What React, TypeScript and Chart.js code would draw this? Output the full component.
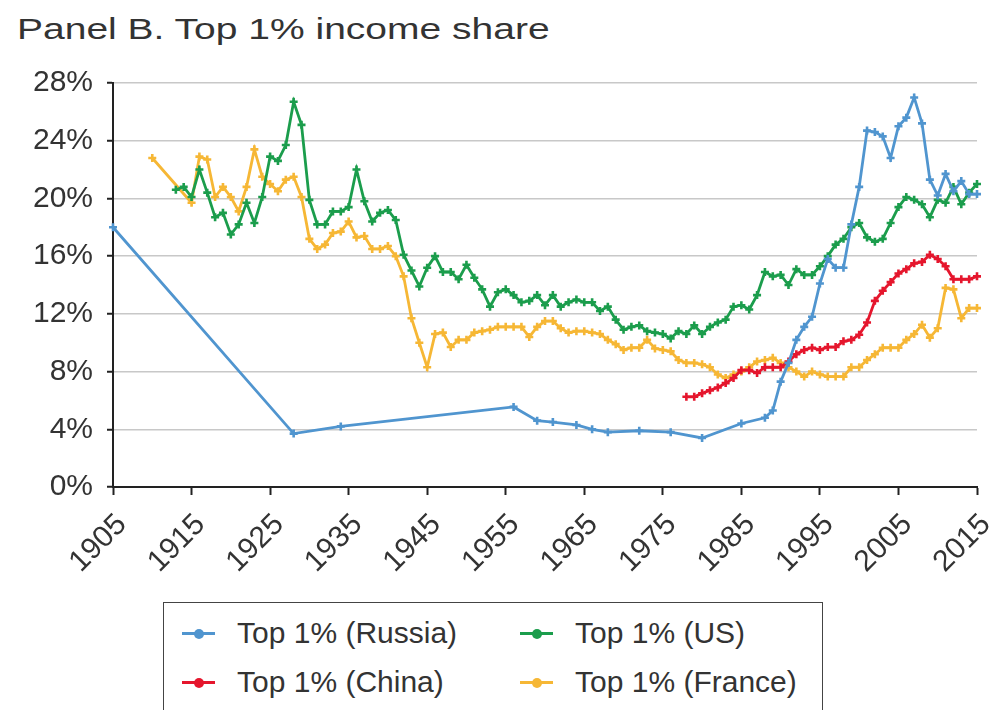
import React, { useEffect, useRef } from "react";
import { Chart, registerables } from "chart.js";

Chart.register(...registerables);

// ---- Data ----
const xTickYears = [1905, 1915, 1925, 1935, 1945, 1955, 1965, 1975, 1985, 1995, 2005, 2015];
const yTickValues = [0, 4, 8, 12, 16, 20, 24, 28];

const russiaYears = [
  1905, 1928, 1934, 1956, 1959, 1961, 1964, 1966, 1968, 1972, 1976, 1980, 1985, 1988, 1989,
  1990, 1991, 1992, 1993, 1994, 1995, 1996, 1997, 1998, 1999,
  2000, 2001, 2002, 2003, 2004, 2005, 2006, 2007, 2008, 2009,
  2010, 2011, 2012, 2013, 2014, 2015,
];
const russiaShare = [
  18.0, 3.7, 4.2, 5.55, 4.6, 4.5, 4.3, 4.0, 3.8, 3.9, 3.8, 3.4, 4.4, 4.8, 5.3,
  7.3, 8.6, 10.2, 11.1, 11.8, 14.1, 15.8, 15.2, 15.2, 18.2,
  20.8, 24.7, 24.6, 24.3, 22.8, 25.0, 25.6, 27.0, 25.2, 21.3,
  20.2, 21.7, 20.5, 21.2, 20.3, 20.3,
];

const usFirstYear = 1913;
const usShare = [
  20.6, 20.8, 20.1, 22.0, 20.4, 18.7, 19.0,
  17.5, 18.2, 19.7, 18.3, 20.1, 22.9, 22.6, 23.7, 26.7, 25.1,
  19.9, 18.2, 18.2, 19.1, 19.1, 19.4, 22.0, 19.8, 18.4, 19.0,
  19.2, 18.5, 16.1, 15.0, 13.9, 15.2, 16.0, 14.9, 14.9, 14.4,
  15.4, 14.5, 13.7, 12.5, 13.5, 13.7, 13.3, 12.8, 12.9, 13.3,
  12.6, 13.3, 12.5, 12.8, 13.0, 12.8, 12.8, 12.2, 12.5, 11.6,
  10.9, 11.1, 11.2, 10.8, 10.7, 10.6, 10.3, 10.8, 10.6, 11.2,
  10.6, 11.1, 11.4, 11.6, 12.5, 12.6, 12.3, 13.3, 14.9, 14.6,
  14.7, 14.0, 15.1, 14.7, 14.7, 15.3, 16.0, 16.8, 17.2, 18.0,
  18.3, 17.3, 17.0, 17.2, 18.3, 19.4, 20.1, 19.9, 19.6, 18.7,
  19.9, 19.7, 20.8, 19.6, 20.4, 21.0,
];

const chinaFirstYear = 1978;
const chinaShare = [
  6.25, 6.25,
  6.5, 6.7, 6.9, 7.2, 7.55, 8.1, 8.1, 7.9, 8.3, 8.3,
  8.3, 8.7, 9.2, 9.5, 9.65, 9.5, 9.7, 9.7, 10.1, 10.2,
  10.55, 11.4, 12.9, 13.6, 14.2, 14.8, 15.1, 15.5, 15.6, 16.1,
  15.8, 15.3, 14.4, 14.4, 14.4, 14.6,
];

const franceEarlyYears = [1910];
const franceEarlyShare = [22.8];
const franceFirstYear = 1915;
const franceShare = [
  19.7, 22.9, 22.7, 20.1, 20.8,
  20.1, 19.1, 20.8, 23.4, 21.5, 21.0, 20.5, 21.3, 21.5, 20.1,
  17.2, 16.5, 16.8, 17.6, 17.7, 18.4, 17.3, 17.4, 16.5, 16.5,
  16.7, 16.0, 14.6, 11.7, 10.0, 8.3, 10.6, 10.7, 9.7, 10.2,
  10.2, 10.7, 10.8, 10.9, 11.1, 11.1, 11.1, 11.1, 10.4, 11.1,
  11.5, 11.5, 11.0, 10.7, 10.8, 10.8, 10.7, 10.6, 10.2, 9.9,
  9.5, 9.65, 9.65, 10.2, 9.6, 9.5, 9.4, 8.8, 8.6, 8.6,
  8.5, 8.3, 7.8, 7.55, 7.8, 8.0, 8.3, 8.7, 8.8, 8.95,
  8.6, 8.3, 8.0, 7.65, 8.0, 7.8, 7.65, 7.65, 7.65, 8.3,
  8.3, 8.8, 9.2, 9.65, 9.65, 9.65, 10.2, 10.6, 11.25, 10.35,
  11.0, 13.8, 13.7, 11.7, 12.4, 12.4,
];

const seriesLabels = ["Top 1% (Russia)", "Top 1% (US)", "Top 1% (China)", "Top 1% (France)"];
const seriesColors = ["#5095cf", "#1b9d4c", "#e5162d", "#f6b735"];

// ---- helpers ----
const pairs = (years: number[], vals: number[]) => vals.map((v, i) => ({ x: years[i], y: v }));
const consecutive = (first: number, vals: number[]) => vals.map((v, i) => ({ x: first + i, y: v }));

const FONT = "'Liberation Sans', Arial, Helvetica, sans-serif";

export default function App() {
  const canvasRef = useRef<HTMLCanvasElement | null>(null);

  useEffect(() => {
    const canvas = canvasRef.current;
    if (!canvas) return;

    const seriesData = [
      pairs(russiaYears, russiaShare),
      consecutive(usFirstYear, usShare),
      consecutive(chinaFirstYear, chinaShare),
      [...pairs(franceEarlyYears, franceEarlyShare), ...consecutive(franceFirstYear, franceShare)],
    ];
    const drawOrder = [1, 2, 3, 4];

    const chart = new Chart(canvas, {
      type: "line",
      data: {
        datasets: seriesData.map((d, i) => ({
          label: seriesLabels[i],
          data: d,
          borderColor: seriesColors[i],
          backgroundColor: seriesColors[i],
          borderWidth: 2.8,
          pointStyle: "cross",
          pointRadius: 4,
          pointBorderWidth: 2.6,
          pointBorderColor: seriesColors[i],
          pointBackgroundColor: seriesColors[i],
          tension: 0,
          fill: false,
          clip: false,
          order: drawOrder[i],
        })),
      },
      options: {
        animation: false,
        responsive: false,
        maintainAspectRatio: false,
        events: [],
        layout: { padding: { left: 0, top: 83, right: 18, bottom: 0 } },
        plugins: {
          legend: { display: false },
          tooltip: { enabled: false },
          title: { display: false },
        },
        scales: {
          x: {
            type: "linear",
            min: xTickYears[0],
            max: xTickYears[xTickYears.length - 1],
            afterBuildTicks: (scale: any) => {
              scale.ticks = xTickYears.map((v) => ({ value: v }));
            },
            afterFit: (scale: any) => {
              scale.height = 113;
              scale.paddingRight = 0;
              scale.paddingLeft = 0;
            },
            ticks: {
              autoSkip: false,
              maxRotation: 45,
              minRotation: 45,
              padding: 8,
              labelOffset: 9,
              color: "#333",
              font: { family: FONT, size: 30, lineHeight: 1.6 },
              callback: (v: any) => String(v),
            },
            grid: {
              drawOnChartArea: false,
              drawTicks: true,
              tickLength: 8,
              tickColor: "#222",
              tickWidth: 2,
            },
            border: { display: true, color: "#222", width: 2 },
          },
          y: {
            type: "linear",
            min: yTickValues[0],
            max: yTickValues[yTickValues.length - 1],
            afterBuildTicks: (scale: any) => {
              scale.ticks = yTickValues.map((v) => ({ value: v }));
            },
            afterFit: (scale: any) => {
              scale.width = 113;
            },
            ticks: {
              padding: 14,
              color: "#333",
              font: { family: FONT, size: 30 },
              callback: (v: any) => `${v}%`,
            },
            grid: {
              color: "#c8c8c8",
              lineWidth: 1.5,
              drawTicks: true,
              tickLength: 6,
              tickColor: "#222",
              tickWidth: 2,
            },
            border: { display: true, color: "#222", width: 2 },
          },
        },
      },
    } as any);

    return () => chart.destroy();
  }, []);

  const legendItems = [
    { idx: 0, left: 182, top: 633 },
    { idx: 1, left: 520, top: 633 },
    { idx: 2, left: 182, top: 682 },
    { idx: 3, left: 520, top: 682 },
  ];

  return (
    <div
      style={{
        position: "absolute",
        left: 0,
        top: 0,
        width: 995,
        height: 710,
        overflow: "hidden",
        background: "#fff",
        fontFamily: FONT,
      }}
    >
      <div
        style={{
          position: "absolute",
          left: 17,
          top: 12,
          fontSize: 30,
          lineHeight: "34px",
          color: "#333",
          whiteSpace: "nowrap",
          transform: "scaleX(1.3)",
          transformOrigin: "0 0",
        }}
      >
        Panel B. Top 1% income share
      </div>
      <canvas
        ref={canvasRef}
        width={995}
        height={600}
        style={{ position: "absolute", left: 0, top: 0, width: 995, height: 600 }}
      />
      <div
        style={{
          position: "absolute",
          left: 163,
          top: 602,
          width: 660,
          height: 140,
          border: "1.5px solid #444",
          boxSizing: "border-box",
        }}
      />
      {legendItems.map((it) => (
        <div
          key={it.idx}
          style={{
            position: "absolute",
            left: it.left,
            top: it.top - 17,
            height: 34,
            display: "flex",
            alignItems: "center",
            whiteSpace: "nowrap",
          }}
        >
          <div style={{ position: "relative", width: 33, height: 34 }}>
            <div
              style={{
                position: "absolute",
                left: 0,
                top: 16,
                width: 33,
                height: 3,
                background: seriesColors[it.idx],
              }}
            />
            <div
              style={{
                position: "absolute",
                left: 11.5,
                top: 12.5,
                width: 10,
                height: 10,
                borderRadius: "50%",
                background: seriesColors[it.idx],
              }}
            />
          </div>
          <span
            style={{
              marginLeft: 22,
              fontSize: 30,
              lineHeight: "34px",
              color: "#333",
            }}
          >
            {seriesLabels[it.idx]}
          </span>
        </div>
      ))}
    </div>
  );
}
